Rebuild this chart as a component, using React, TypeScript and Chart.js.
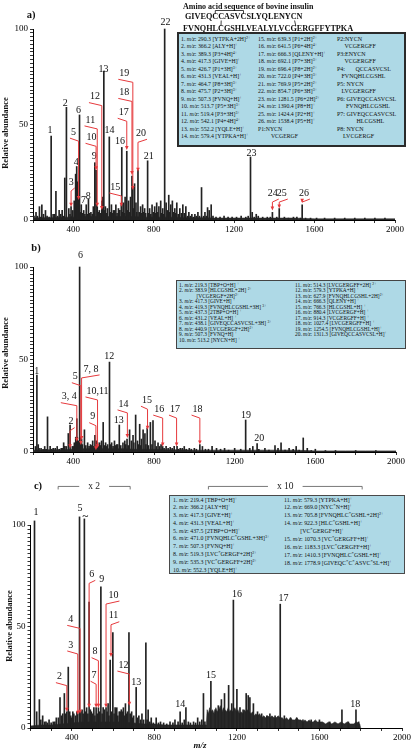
import React, { useEffect, useRef } from 'react';
import { Chart, registerables } from 'chart.js';
Chart.register(...registerables);

const SERIF = "'Liberation Serif', 'DejaVu Serif', serif";
const RED = '#e6393c';
const INK = '#222222';

// ---------------- Panel a ----------------
const aPeakMz = [215, 232, 244, 262, 290.3, 300, 314, 330, 345, 358, 366.2, 378, 389.3, 398, 405, 412, 417.3, 422, 426.7, 431.3, 440, 452, 464.7, 475.7, 488, 500, 507.3, 513.7, 519.4, 530, 542.1, 547, 552.2, 560, 570, 579.4, 590, 600, 612, 625, 632, 639.3, 641.5, 650, 658, 666.3, 675, 685, 692.1, 696.4, 705, 712, 722.0, 735, 745, 755, 769.9, 780, 792, 805, 815, 826, 835, 845, 854.7, 862, 875, 885, 893, 905, 915, 930, 945, 960, 975, 990, 1005, 1020, 1038, 1055, 1068, 1076, 1086, 1281.5, 1290, 1310, 1390.4, 1424.4, 1538.4];
const aPeakAb = [4, 7, 8, 5, 44, 3, 15, 5, 5, 22, 59, 6, 7, 5, 10, 24, 28, 20, 12, 55, 8, 5, 8, 11, 4, 7, 30, 26, 7, 5, 10, 12, 78, 7, 6, 43.5, 8, 5, 8, 6, 5, 8, 38, 9, 12, 36, 10, 12, 23, 17, 19, 9, 26, 7, 8, 6, 31, 6, 8, 7, 9, 7, 10, 6, 100, 9, 13, 8, 10, 6, 9, 6, 8, 7, 4, 3, 3, 4, 17, 4, 6.5, 5, 8, 33, 4, 3, 4, 6, 8];
const aGrassMz = [205, 222, 238, 252, 270, 280, 307, 322, 338, 352, 384, 395, 436, 446, 458, 470, 482, 495, 503, 525, 536, 556, 565, 585, 596, 606, 618, 628, 646, 655, 670, 680, 700, 716, 728, 740, 750, 760, 775, 786, 798, 810, 820, 840, 850, 868, 880, 898, 910, 922, 938, 952, 968, 982, 998, 1012, 1028, 1048, 1062, 1095, 1110, 1130, 1150, 1170, 1190, 1212, 1235, 1258, 1270, 1300, 1320, 1342, 1365, 1380, 1412, 1450, 1470, 1495, 1512, 1530, 1555, 1580, 1610, 1650, 1700, 1750, 1800, 1850, 1900, 1950];
const aGrassAb = [2, 2, 1.5, 3, 2, 1.5, 3, 2, 3, 2, 3, 2, 4, 3.5, 3, 3, 3.5, 3, 4, 4, 3.5, 5, 3.5, 4, 3.5, 5, 3.5, 5, 4, 3.5, 5, 4, 6, 4, 4, 3.5, 4, 3.5, 3.5, 3, 4, 3.5, 4, 3.5, 3, 5, 4, 4, 3.5, 3, 3.5, 3.5, 2, 2, 1.5, 2, 2, 2, 2, 2, 1.5, 1.5, 2, 1.5, 1.5, 1.5, 2, 1.5, 2, 1.5, 2, 1.5, 1.5, 1.5, 1.5, 1.5, 1, 1.5, 1.5, 1, 1, 1, 1, 1, 1, 1, 1, 1, 1, 1];
const aBaseMz = [200, 250, 300, 350, 400, 450, 500, 550, 600, 650, 700, 750, 800, 850, 900, 950, 1000, 1050, 1100, 1150, 1200, 1250, 1300, 1350, 1400, 1450, 1500, 1550, 1600, 1650, 1700, 1750, 1800, 1850, 1900, 1950, 2000];
const aBaseAb = [1, 1.2, 1.2, 1.5, 1.5, 1.8, 1.8, 1.8, 1.8, 1.8, 1.8, 1.5, 1.5, 1.5, 1.5, 1.2, 1.2, 1.2, 1, 1, 1, 1, 1, 1, 1, 1, 1, 0.8, 0.6, 0.6, 0.6, 0.6, 0.6, 0.6, 0.6, 0.6, 0.6];

const aLabText = ['1', '2', '3', '4', '5', '6', '7', '8', '9', '10', '11', '12', '13', '14', '15', '16', '17', '18', '19', '20', '21', '22', '23', '24', '25', '26'];
const aLabMz = [285, 360, 390, 415, 401, 426, 451, 475, 505, 491, 485, 508, 550, 580, 609, 633, 651, 654, 654, 737, 775, 859, 1287, 1392, 1437, 1547];
const aLabAb = [47, 61.3, 19.9, 30, 46, 57.6, 10.5, 12.2, 33.5, 43.3, 52.4, 64.6, 78.9, 46.8, 17.3, 41.4, 56.4, 66.8, 76.8, 45.4, 33.1, 103.7, 35, 14.1, 14.1, 14.1];
const aLeadMz = [null, null, 389.3, null, 426.7, null, null, null, null, 513.7, 519.4, 542.1, null, null, 639.3, null, 666.3, 692.1, 696.4, 722.0, null, null, null, 1390.4, 1424.4, 1538.4];
const aLeadTip = [null, null, 7, null, 10.5, null, null, null, null, 26, 7, 5.2, null, null, 7, null, 36.6, 23.6, 15.7, 25.3, null, null, null, 5, 6, 9];

// ---------------- Panel b ----------------
const bPeakMz = [212, 219.3, 226, 240, 258, 272, 285, 300, 320, 340, 352, 365, 375, 383.9, 395, 405, 412, 417.3, 419.3, 425, 431.2, 437.3, 438.1, 440.9, 455, 471, 485, 496, 507.3, 513.2, 520, 530, 540, 548, 560, 570, 579.3, 590, 604, 615, 627.9, 646, 655, 666.3, 679, 688, 696, 709, 718, 729, 738, 746, 755, 766.3, 782, 795, 805, 820, 835, 843, 860, 880.4, 900, 914.3, 930, 950, 975, 1000, 1027.4, 1040, 1088, 1110, 1150, 1200, 1254.5, 1275, 1290, 1311.3, 1350, 1400, 1415, 1430, 1470, 1505, 1540, 1560, 1600];
const bPeakAb = [3, 41.6, 4, 2, 3, 19, 3, 2, 3, 2, 5, 3, 10, 14.5, 3, 5, 8, 18, 8, 6, 100, 8, 6, 7, 12, 5, 4, 6, 9, 6, 5, 5, 6, 16, 5, 4, 48.6, 5, 6, 4, 14.6, 5, 6, 7, 12, 6, 9, 20, 6, 15, 7, 12, 10, 13, 16, 17, 6, 5, 4, 3, 3, 2.5, 3, 3, 2, 3, 2, 2, 4, 3, 3, 2, 2, 2, 17.3, 2, 3, 4.5, 2, 3.5, 2, 5, 2, 3, 7.6, 2, 1.5];
const bGrassMz = [230, 250, 265, 292, 310, 330, 347, 358, 400, 445, 462, 478, 490, 502, 525, 535, 553, 565, 585, 597, 610, 620, 635, 660, 672, 700, 724, 734, 760, 772, 790, 812, 828, 850, 870, 890, 920, 940, 960, 985, 1010, 1055, 1070, 1130, 1170, 1230, 1320, 1370, 1450, 1490, 1520, 1580, 1650, 1700, 1800, 1900];
const bGrassAb = [2, 1.5, 1.5, 1.5, 2, 1.5, 2, 3, 3, 4, 3.5, 3, 3.5, 3, 3, 3.5, 3.5, 3, 4, 3, 3.5, 4, 3.5, 4, 3.5, 5, 4, 3.5, 4, 3.5, 4, 3, 3, 2, 2, 2, 1.5, 2, 1.5, 1.5, 1.5, 1.5, 1.5, 1.5, 1, 1.5, 1.5, 1, 1, 1.5, 1, 0.8, 0.8, 0.8, 0.8, 0.8];
const bBaseMz = [200, 250, 300, 350, 400, 450, 500, 550, 600, 650, 700, 750, 800, 850, 900, 950, 1000, 1050, 1100, 1150, 1200, 1250, 1300, 1350, 1400, 1450, 1500, 1550, 1600, 1650, 1700, 1750, 1800, 1850, 1900, 1950, 2000];
const bBaseAb = [1, 1.2, 1.2, 1.2, 1.5, 1.8, 1.8, 1.8, 1.8, 1.8, 1.5, 1.5, 1.5, 1.2, 1.2, 1.2, 1, 1, 1, 1, 1, 1, 1, 1, 1, 1, 1, 0.8, 0.6, 0.6, 0.6, 0.6, 0.6, 0.6, 0.6, 0.6, 0.6];

const bLabText = ['1', '2', '3, 4', '5', '6', '7, 8', '9', '10,11', '12', '13', '14', '15', '16', '17', '18', '19', '20'];
const bLabMz = [218, 389, 380, 410, 435, 488, 496, 520, 578, 625, 649, 765, 826, 904, 1016, 1256, 1322];
const bLabAb = [43.5, 16.4, 29.9, 40.7, 106.5, 44.9, 19.1, 33, 51.5, 17.3, 26, 28, 23.2, 23.2, 23.2, 20, 7.4];
const bLeadMz = [null, 383.9, 417.3, 437.3, null, 440.9, 512, 520, null, null, 668, 768, 843, 912, 1027.4, null, null];
const bLeadTip = [null, 2, 5.6, 3.8, null, 6.5, 1, 2, null, null, 7.6, 12, 3, 3, 4, null, null];

// ---------------- Panel c ----------------
const cPeakMz = [219.4, 230, 243, 259, 275, 290, 310, 325, 343, 356, 364, 376, 383, 395, 405, 418, 429, 437.5, 444, 461, 472, 484, 495, 507, 518, 529, 541, 552, 566, 576, 586, 599, 610, 618, 630, 640, 650, 660, 677, 690, 712, 725, 740, 759, 770, 785, 809, 830, 876, 900, 925, 953, 990, 1010, 1038, 1074, 1095, 1110, 1125, 1140, 1160, 1175, 1183, 1200, 1215, 1230, 1245, 1255, 1263, 1280, 1300, 1320, 1345, 1360, 1385, 1410, 1430, 1460, 1490, 1520, 1560, 1600, 1650, 1709, 1740, 1777, 1790];
const cPeakAb = [102, 8, 14, 6, 3, 4, 3, 5, 15, 7, 17, 8, 30, 6, 8, 6, 7, 104, 8, 103, 10, 62, 8, 10, 10, 10, 69.5, 10, 10, 12, 33.5, 47, 10, 10, 8, 9, 10, 12, 47, 8, 20, 6, 7, 42, 9, 5, 5, 3, 3, 4, 8, 10, 3, 5, 17, 23, 9, 11, 14, 17, 21, 12, 63, 19, 10, 9, 17, 16, 15, 12, 8, 7, 6, 7, 6, 61, 6, 5, 5, 4, 4, 4, 3, 9, 3, 9, 3];
const cGrassMz = [250, 268, 282, 300, 318, 335, 350, 370, 390, 400, 410, 425, 450, 455, 466, 478, 490, 500, 512, 524, 535, 547, 558, 571, 580, 593, 605, 614, 623, 635, 645, 655, 666, 670, 683, 695, 700, 718, 733, 748, 765, 778, 795, 820, 845, 860, 890, 915, 935, 945, 965, 975, 1000, 1020, 1030, 1045];
const cGrassAb = [4, 3, 2.5, 2.5, 3, 5, 6, 7, 8, 5, 7, 8, 9, 7, 8, 7, 9, 7, 6, 7, 8, 7, 9, 8, 6, 8, 7, 9, 6, 8, 8, 6, 7, 8, 7, 5, 6, 5, 4, 4, 4, 3, 2.5, 2.5, 2.5, 2, 2.5, 3, 2.5, 4, 3, 2.5, 2.5, 3, 4, 3];
const cBandMz = [200, 250, 300, 350, 400, 450, 500, 550, 600, 650, 700, 750, 800, 850, 900, 950, 1000, 1045, 1052, 1056, 1062, 1068, 1075, 1082, 1090, 1098, 1105, 1112, 1120, 1128, 1135, 1142, 1150, 1158, 1165, 1172, 1180, 1190, 1198, 1205, 1212, 1220, 1228, 1236, 1244, 1252, 1260, 1268, 1276, 1284, 1292, 1300, 1310, 1320, 1330, 1340, 1350, 1360, 1370, 1380, 1390, 1400, 1410, 1420, 1430, 1440, 1450, 1460, 1470, 1480, 1490, 1500, 1510, 1520, 1530, 1540, 1550, 1560, 1570, 1580, 1590, 1600, 1615, 1630, 1645, 1660, 1675, 1690, 1705, 1720, 1735, 1750, 1765, 1780, 1795, 1800];
const cBandAb = [1, 1.5, 1.5, 2, 2.5, 3, 3, 3, 3, 3, 2.5, 2, 2, 1.5, 1.5, 1.5, 1.5, 1.5, 1.5, 9, 7, 10, 8, 9, 7, 10, 8, 9, 11, 8, 10, 9, 8, 10, 8, 9, 8, 10, 8, 9, 7, 8, 7, 9, 8, 9, 8, 7, 8, 6, 7, 6, 7, 5, 6, 5, 6, 5, 6, 5, 5, 6, 5, 5, 4, 5, 4, 5, 4, 4, 5, 4, 4, 3, 4, 3, 4, 3, 3, 4, 3, 3, 3, 2, 3, 2, 3, 2, 3, 2, 3, 2, 2, 3, 2, 0];

const cLabText = ['1', '2', '3', '4', '5', '6', '7', '8', '9', '10', '11', '12', '13', '14', '15', '16', '17', '18'];
const cLabMz = [227, 340, 395, 395, 440, 497, 508, 513, 545, 602, 602, 650, 712, 925, 1074, 1200, 1426, 1773];
const cLabAb = [106, 25.3, 40.9, 53.5, 108, 75.7, 26, 37.6, 73.4, 65.5, 55.3, 31, 22.5, 11.5, 26, 66, 64, 11.5];
const cLeadMz = [null, 376, 429, 440, null, 484, 518, 529, null, 566, 590, 679, null, null, null, null, null, null];
const cLeadTip = [null, 8, 6.5, 7, null, 10, 10, 10, null, 10, 35, 11, null, null, null, null, null, null];
const cBracketFrom = [334, 1062];
const cBracketTo = [683, 1807];
const cBracketText = ['x 2', 'x 10'];
const cBracketAb = 119;
const cBreakMz = 461;
const cBreakAb = 104.5;

// ---------------- Legends ----------------
const aCol1 = ['1. m/z: 290.3 [YTPKA+2H]^2+', '2. m/z: 366.2 [ALY+H]^+', '3. m/z: 389.3 [P3+4H]^4+', '4. m/z: 417.3 [GIVE+H]^+', '5. m/z: 426.7 [P1+3H]^3+', '6. m/z: 431.3 [VEAL+H]^+', '7. m/z: 464.7 [P8+3H]^3+', '8. m/z: 475.7 [P2+3H]^3+', '9. m/z: 507.3 [FVNQ+H]^+', '10. m/z: 513.7 [P5+3H]^3+', '11. m/z: 519.4 [P3+3H]^3+', '12. m/z: 542.1 [P4+4H]^4+', '13. m/z: 552.2 [YQLE+H]^+', '14. m/z: 579.4 [YTPKA+H]^+'];
const aCol2 = ['15. m/z: 639.3 [P1+2H]^2+', '16. m/z: 641.5 [P6+4H]^4+', '17. m/z: 666.3 [QLENY+H]^+', '18. m/z: 692.1 [P7+3H]^3+', '19. m/z: 696.4 [P8+2H]^2+', '20. m/z: 722.0 [P4+3H]^3+', '21. m/z: 769.9 [P5+2H]^2+', '22. m/z: 854.7 [P6+3H]^3+', '23. m/z: 1281.5 [P6+2H]^2+', '24. m/z: 1390.4 [P8+H]^+', '25. m/z: 1424.4 [P2+H]^+', '26. m/z: 1538.4 [P5+H]^+', 'P1:NYCN', '         VCGERGF'];
const aCol3 = ['P2:NYCN', '     VCGERGFF', 'P3:ENYCN', '     VCGERGFF', 'P4:       QCCASVCSL', '   FVNQHLCGSHL', 'P5: NYCN', '   LVCGERGFF', 'P6: GIVEQCCASVCSL', '      FVNQHLCGSHL', 'P7: GIVEQCCASVCSL', '             HLCGSHL', 'P8: NYCN', '    LVCGERGF'];
const bCol1 = ['1. m/z: 219.3 [TBP+O+H] ^+', '2. m/z: 383.9 [HLCGSHL+2H] ^2+', '             [VCGERGF+2H]^2+', '3. m/z: 417.3 [GIVE+H] ^+', '4. m/z: 419.3 [FVNQHLCGSHL+3H] ^3+', '5. m/z: 437.3 [2TBP+O+H] ^+', '6. m/z: 431.2 [VEAL+H] ^+', '7. m/z: 438.1 [GIVEQCCASVCSL+3H] ^3+', '8. m/z: 440.9 [LVCGERGF+2H]^2+', '9. m/z: 507.3 [FVNQ+H] ^+', '10. m/z: 513.2 [NYCN+H] ^+'];
const bCol2 = ['11. m/z: 514.3 [LVCGERGFF+2H] ^2+', '12. m/z: 579.3 [YTPKA+H] ^+', '13. m/z: 627.9 [FVNQHLCGSHL+2H]^2+', '14. m/z: 666.3 [QLENY+H] ^+', '15. m/z: 766.3 [HLCGSHL+H] ^+', '16. m/z: 880.4 [LVCGERGF+H] ^+', '17. m/z: 914.3 [VCGERGFF+H] ^+', '18. m/z: 1027.4 [LVCGERGFF+H] ^+', '19. m/z: 1254.5 [FVNQHLCGSHL+H]^+', '20. m/z: 1311.3 [GIVEQCCASVCSL+H]^+'];
const cCol1 = ['1. m/z: 219.4 [TBP+O+H]^+', '2. m/z: 366.2 [ALY+H]^+', '3. m/z: 417.3 [GIVE+H]^+', '4. m/z: 431.3 [VEAL+H]^+', '5. m/z: 437.5 [2TBP+O+H]^+', '6. m/z: 471.0 [FVNQHLC*GSHL+3H]^3+', '7. m/z: 507.3 [FVNQ+H]^+', '8. m/z: 519.3 [LVC*GERGF+2H]^2+', '9. m/z: 535.3 [VC*GERGFF+2H]^2+', '10. m/z: 552.3 [YQLE+H]^+'];
const cCol2 = ['11. m/z: 579.3 [YTPKA+H]^+', '12. m/z: 669.0 [NYC*N+H]^+', '13. m/z: 705.8 [FVNQHLC*GSHL+2H]^2+', '14. m/z: 922.3 [HLC*GSHL+H]^+', '           [VC*GERGF+H]^+', '15. m/z: 1070.3 [VC*GERGFF+H]^+', '16. m/z: 1183.3 [LVC*GERGFF+H]^+', '17. m/z: 1410.3 [FVNQHLC*GSHL+H]^+', '18. m/z: 1778.9 [GIVEQC*C*ASVC*SL+H]^+'];

const seqTitle = 'Amino acid sequence of bovine insulin';
const seqA = 'GIVEQCCASVCSLYQLENYCN';
const seqB = 'FVNQHLCGSHLVEALYLVCGERGFFYTPKA';

function pts(mz: number[], ab: number[]) {
  return mz.map((m, i) => ({ x: m, y: ab[i] }));
}

function annotPlugin(text: string[], mz: number[], ab: number[], lMz: (number | null)[], lTip: (number | null)[], extra?: any) {
  return {
    id: 'peakLabels',
    afterDatasetsDraw(chart: any) {
      const ctx = chart.ctx;
      const xs = chart.scales.x;
      const ys = chart.scales.y;
      ctx.save();
      ctx.font = `10px ${SERIF}`;
      ctx.textAlign = 'center';
      ctx.textBaseline = 'middle';
      text.forEach((t, i) => {
        const lx = xs.getPixelForValue(mz[i]);
        const ly = ys.getPixelForValue(ab[i]);
        const lm = lMz[i];
        const lt = lTip[i];
        if (lm != null && lt != null) {
          const px = xs.getPixelForValue(lm);
          const ty = ys.getPixelForValue(lt);
          const w = ctx.measureText(t).width;
          const dir = px >= lx ? 1 : -1;
          const sx = lx - dir * (w / 2 + 1);
          const sy = ly + 6;
          const my = sy + 3;
          ctx.strokeStyle = RED;
          ctx.fillStyle = RED;
          ctx.lineWidth = 1;
          ctx.beginPath();
          ctx.moveTo(sx, sy);
          ctx.lineTo(px, my);
          ctx.lineTo(px, ty - 3);
          ctx.stroke();
          ctx.beginPath();
          ctx.moveTo(px - 1.8, ty - 4);
          ctx.lineTo(px + 1.8, ty - 4);
          ctx.lineTo(px, ty);
          ctx.closePath();
          ctx.fill();
        }
        ctx.fillStyle = '#111';
        ctx.fillText(t, lx, ly);
      });
      if (extra) extra(ctx, xs, ys);
      ctx.restore();
    },
  };
}

function makeConfig(peaks: any[], band: any[], pad: any, yW: number, xH: number, plugin: any) {
  const gridOpt = { display: true, drawOnChartArea: false, drawTicks: true, tickLength: 3, color: '#000', lineWidth: 0.8, offset: false };
  const tickFont = { family: SERIF, size: 9 };
  return {
    type: 'bar',
    data: {
      datasets: [
        { type: 'line', data: band, fill: 'origin', backgroundColor: '#2a2a2a', borderColor: '#2a2a2a', borderWidth: 0.6, pointRadius: 0, tension: 0, order: 2 },
        { type: 'bar', data: peaks, backgroundColor: INK, barThickness: 1, borderWidth: 0, order: 1, clip: false, grouped: false },
      ],
    },
    options: {
      responsive: false,
      animation: false,
      events: [],
      layout: { padding: pad },
      plugins: { legend: { display: false }, tooltip: { enabled: false } },
      scales: {
        x: {
          type: 'linear', min: 200, max: 2000, offset: false,
          grid: gridOpt,
          border: { display: true, color: '#000', width: 1 },
          ticks: { stepSize: 100, autoSkip: false, maxRotation: 0, padding: 1, color: '#000', font: tickFont, callback: (v: number) => (v % 400 === 0 ? String(v) : '') },
          afterFit: (s: any) => { s.height = xH; },
        },
        y: {
          type: 'linear', min: 0, max: 100,
          grid: gridOpt,
          border: { display: true, color: '#000', width: 1 },
          ticks: { stepSize: 2, autoSkip: false, padding: 2, color: '#000', font: tickFont, callback: (v: number) => (v === 0 || v === 50 || v === 100 ? String(v) : '') },
          afterFit: (s: any) => { s.width = yW; },
        },
      },
    },
    plugins: [plugin],
  };
}

function Rich({ s }: { s: string }) {
  const parts = s.split(/(m\/z|\^[^\s\]]+|\*)/);
  return (
    <>
      {parts.map((p, i) => {
        if (p === 'm/z') return <i key={i}>m/z</i>;
        if (p.startsWith('^')) return <sup key={i} style={{ fontSize: '0.7em', lineHeight: 0, verticalAlign: '0.45em' }}>{p.slice(1)}</sup>;
        if (p === '*') return <sup key={i} style={{ fontSize: '0.8em', lineHeight: 0, verticalAlign: '0.4em' }}>*</sup>;
        return <React.Fragment key={i}>{p}</React.Fragment>;
      })}
    </>
  );
}

function Col({ lines, left, top, lh, fs }: { lines: string[]; left: number; top: number; lh: number; fs: number }) {
  return (
    <div style={{ position: 'absolute', left, top, fontSize: fs, lineHeight: `${lh}px`, whiteSpace: 'pre', color: '#111' }}>
      {lines.map((l, i) => (
        <div key={i} style={{ height: lh }}><Rich s={l} /></div>
      ))}
    </div>
  );
}

function Abs({ x, y, children, style }: any) {
  return <div style={{ position: 'absolute', left: x, top: y, transform: 'translate(-50%,-50%)', whiteSpace: 'nowrap', ...style }}>{children}</div>;
}

export default function App() {
  const aRef = useRef<HTMLCanvasElement>(null);
  const bRef = useRef<HTMLCanvasElement>(null);
  const cRef = useRef<HTMLCanvasElement>(null);

  useEffect(() => {
    document.body.style.margin = '0';
    const extraC = (ctx: any, xs: any, ys: any) => {
      ctx.strokeStyle = '#555';
      ctx.fillStyle = '#222';
      ctx.lineWidth = 0.8;
      ctx.font = `9.5px ${SERIF}`;
      cBracketFrom.forEach((f, i) => {
        const x1 = xs.getPixelForValue(f);
        const x2 = xs.getPixelForValue(cBracketTo[i]);
        const y = ys.getPixelForValue(cBracketAb);
        const xm = (x1 + x2) / 2;
        const w = ctx.measureText(cBracketText[i]).width / 2 + 9;
        ctx.beginPath();
        ctx.moveTo(x1, y + 3);
        ctx.lineTo(x1, y);
        ctx.lineTo(xm - w, y);
        ctx.moveTo(xm + w, y);
        ctx.lineTo(x2, y);
        ctx.lineTo(x2, y + 3);
        ctx.stroke();
        ctx.fillText(cBracketText[i], xm, y);
      });
      const bx = xs.getPixelForValue(cBreakMz);
      const by = ys.getPixelForValue(cBreakAb);
      ctx.font = `bold 11px ${SERIF}`;
      ctx.fillText('~', bx + 1, by);
    };
    const charts = [
      new Chart(aRef.current as any, makeConfig([...pts(aPeakMz, aPeakAb), ...pts(aGrassMz, aGrassAb)], pts(aBaseMz, aBaseAb), { top: 29, right: 17, left: 0, bottom: 0 }, 33, 20,
        annotPlugin(aLabText, aLabMz, aLabAb, aLeadMz, aLeadTip)) as any),
      new Chart(bRef.current as any, makeConfig([...pts(bPeakMz, bPeakAb), ...pts(bGrassMz, bGrassAb)], pts(bBaseMz, bBaseAb), { top: 27, right: 16, left: 0, bottom: 0 }, 33, 18,
        annotPlugin(bLabText, bLabMz, bLabAb, bLeadMz, bLeadTip)) as any),
      new Chart(cRef.current as any, makeConfig([...pts(cPeakMz, cPeakAb), ...pts(cGrassMz, cGrassAb)], pts(cBandMz, cBandAb), { top: 55, right: 10, left: 0, bottom: 0 }, 30.5, 22,
        annotPlugin(cLabText, cLabMz, cLabAb, cLeadMz, cLeadTip, extraC)) as any),
    ];
    return () => charts.forEach((c) => c.destroy());
  }, []);

  const boxBg = '#aed9e6';
  const bold = { fontWeight: 'bold' as const };
  const l1 = 185, l2 = 183;
  return (
    <div style={{ position: 'absolute', left: 0, top: 0, width: 412, height: 750, background: '#fff', overflow: 'hidden', fontFamily: SERIF, color: '#111' }}>
      <canvas ref={aRef} width={412} height={240} style={{ position: 'absolute', left: 0, top: 0 }} />
      <canvas ref={bRef} width={412} height={230} style={{ position: 'absolute', left: 0, top: 240 }} />
      <canvas ref={cRef} width={412} height={280} style={{ position: 'absolute', left: 0, top: 470 }} />

      <Abs x={31} y={14} style={{ ...bold, fontSize: 10.5 }}>a)</Abs>
      <Abs x={36} y={247} style={{ ...bold, fontSize: 10.5 }}>b)</Abs>
      <Abs x={38} y={485} style={{ ...bold, fontSize: 10.5 }}>c)</Abs>

      <Abs x={5} y={133} style={{ ...bold, fontSize: 8.5, transform: 'translate(-50%,-50%) rotate(-90deg)' }}>Relative abundance</Abs>
      <Abs x={5} y={353} style={{ ...bold, fontSize: 8.5, transform: 'translate(-50%,-50%) rotate(-90deg)' }}>Relative abundance</Abs>
      <Abs x={9} y={626} style={{ ...bold, fontSize: 8.5, transform: 'translate(-50%,-50%) rotate(-90deg)' }}>Relative abundance</Abs>
      <Abs x={200} y={745} style={{ ...bold, fontStyle: 'italic', fontSize: 9 }}>m/z</Abs>

      <div style={{ position: 'absolute', left: 183, top: 1.5, fontSize: 8, lineHeight: '9px', ...bold, whiteSpace: 'nowrap' }}>{seqTitle}</div>
      <div style={{ position: 'absolute', left: l1, top: 12, fontSize: 8.2, lineHeight: '10px', ...bold, whiteSpace: 'nowrap' }}>{seqA}</div>
      <div style={{ position: 'absolute', left: l2, top: 24, fontSize: 8.2, lineHeight: '10px', ...bold, whiteSpace: 'nowrap' }}>{seqB}</div>
      <svg width={412} height={40} style={{ position: 'absolute', left: 0, top: 0 }}>
        <polyline points={`${l1 + 30.3},14 ${l1 + 30.3},10.5 ${l1 + 58.5},10.5 ${l1 + 58.5},14`} fill="none" stroke="#111" strokeWidth={0.8} />
        <line x1={l1 + 36.2} y1={20.5} x2={l2 + 38} y2={26} stroke="#111" strokeWidth={0.8} />
        <line x1={l1 + 109.6} y1={20.5} x2={l2 + 112.8} y2={26} stroke="#111" strokeWidth={0.8} />
      </svg>

      <div style={{ position: 'absolute', left: 177, top: 32, width: 229, height: 115, boxSizing: 'border-box', background: boxBg, border: '2px solid #2b2b2b' }} />
      <Col lines={aCol1} left={181} top={35.5} lh={7.5} fs={5.8} />
      <Col lines={aCol2} left={258} top={35.5} lh={7.5} fs={5.8} />
      <Col lines={aCol3} left={337} top={35.5} lh={7.5} fs={6} />

      <div style={{ position: 'absolute', left: 176, top: 280, width: 230, height: 69, boxSizing: 'border-box', background: boxBg, border: '1px solid #444' }} />
      <Col lines={bCol1} left={179} top={282.5} lh={5.5} fs={5.4} />
      <Col lines={bCol2} left={295} top={282.5} lh={5.5} fs={5.4} />

      <div style={{ position: 'absolute', left: 169, top: 495, width: 236, height: 79, boxSizing: 'border-box', background: boxBg, border: '1.5px solid #4a4a4a' }} />
      <Col lines={cCol1} left={173} top={496.5} lh={7.8} fs={5.9} />
      <Col lines={cCol2} left={284} top={496.5} lh={7.9} fs={5.9} />
    </div>
  );
}
